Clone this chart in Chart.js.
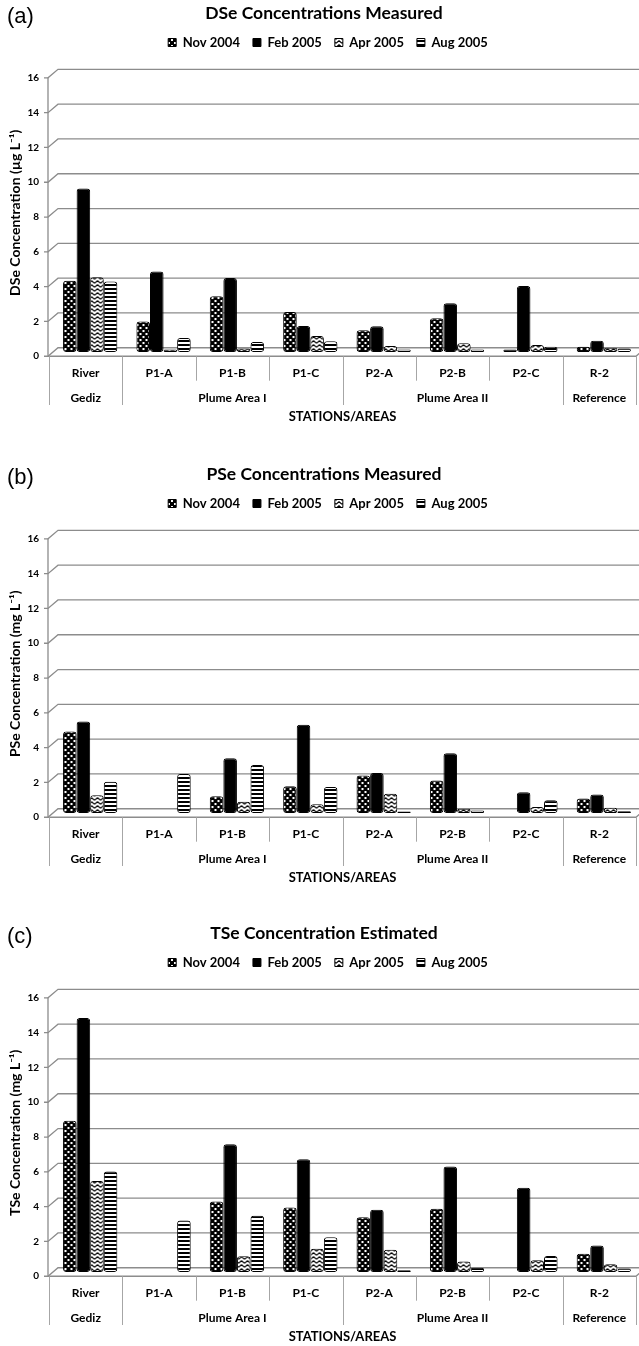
<!DOCTYPE html>
<html>
<head>
<meta charset="utf-8">
<script src="https://cdn.jsdelivr.net/npm/chart.js@4"></script>
<style>
  html, body { margin:0; padding:0; background:#fff; }
  body { width:639px; height:1346px; overflow:hidden; position:relative; }
  .panel { position:absolute; left:0; width:639px; height:427px; }
  .panel canvas { position:absolute; left:0; top:0; }
  .tag { position:absolute; left:7px; top:5px; font:22px/22px 'Liberation Sans', Arial, sans-serif; color:#000; z-index:2; }
</style>
</head>
<body>
<div class="panel" style="top:0px"><div class="tag">(a)</div><canvas id="chartA" width="639" height="427"></canvas></div>
<div class="panel" style="top:461px"><div class="tag">(b)</div><canvas id="chartB" width="639" height="427"></canvas></div>
<div class="panel" style="top:920px"><div class="tag">(c)</div><canvas id="chartC" width="639" height="427"></canvas></div>
<script>
// ---------- data ----------
const categories = ['River', 'P1-A', 'P1-B', 'P1-C', 'P2-A', 'P2-B', 'P2-C', 'R-2'];
const areas = ['Gediz', 'Plume Area I', 'Plume Area II', 'Reference'];
const areaSizes = [1, 3, 3, 1];
const seriesNames = ['Nov 2004', 'Feb 2005', 'Apr 2005', 'Aug 2005'];
const yTickValues = [0, 2, 4, 6, 8, 10, 12, 14, 16];

// (a) DSe
const dseNov = [4.1, 1.75, 3.2, 2.3, 1.25, 1.94, 0.15, 0.3];
const dseFeb = [9.4, 4.63, 4.25, 1.5, 1.48, 2.8, 3.8, 0.65];
const dseApr = [4.3, 0.15, 0.2, 0.92, 0.35, 0.5, 0.4, 0.25];
const dseAug = [4.05, 0.8, 0.58, 0.62, 0.15, 0.15, 0.3, 0.2];

// (b) PSe
const pseNov = [4.68, null, 0.96, 1.54, 2.16, 1.87, null, 0.83];
const pseFeb = [5.26, null, 3.14, 5.07, 2.3, 3.43, 1.19, 1.06];
const pseApr = [1.02, null, 0.64, 0.5, 1.1, 0.25, 0.35, 0.3];
const pseAug = [1.79, 2.24, 2.76, 1.5, 0.08, 0.15, 0.73, 0.1];

// (c) TSe
const tseNov = [8.69, null, 4.05, 3.7, 3.15, 3.63, null, 1.05];
const tseFeb = [14.6, null, 7.34, 6.48, 3.58, 6.06, 4.84, 1.53];
const tseApr = [5.23, null, 0.9, 1.34, 1.28, 0.61, 0.67, 0.44];
const tseAug = [5.77, 2.96, 3.23, 2.0, 0.1, 0.25, 0.92, 0.2];

// ---------- styles ----------
function makePattern(kind) {
  const c = document.createElement('canvas');
  const g = c.getContext('2d');
  if (kind === 'dots') {
    c.width = 6; c.height = 6;
    g.fillStyle = '#000'; g.fillRect(0, 0, 6, 6);
    g.fillStyle = '#fff'; g.fillRect(0, 0, 2, 2); g.fillRect(3, 3, 2, 2);
  } else if (kind === 'solid') {
    c.width = 2; c.height = 2;
    g.fillStyle = '#000'; g.fillRect(0, 0, 2, 2);
  } else if (kind === 'zigzag') {
    c.width = 6; c.height = 4;
    g.fillStyle = '#fff'; g.fillRect(0, 0, 6, 4);
    g.strokeStyle = '#000'; g.lineWidth = 1.1;
    g.beginPath(); g.moveTo(0, 3.2); g.lineTo(3, 0.8); g.lineTo(6, 3.2); g.stroke();
  } else {
    c.width = 2; c.height = 4;
    g.fillStyle = '#fff'; g.fillRect(0, 0, 2, 4);
    g.fillStyle = '#000'; g.fillRect(0, 0, 2, 2);
  }
  return g.createPattern(c, 'repeat');
}
const fills = [makePattern('dots'), makePattern('solid'), makePattern('zigzag'), makePattern('stripes')];

function buildLabels() {
  const out = categories.map(c => [c, '']);
  let i = 0;
  areas.forEach((a, k) => { out[i + Math.floor(areaSizes[k] / 2)][1] = a; i += areaSizes[k]; });
  return out;
}

const DEPTH_X = 10, DEPTH_Y = 8.5;
const TITLE_SHIFT = 6, LEGEND_SHIFT = 10;
const frame3d = {
  id: 'frame3d',
  beforeDraw(chart) {
    // the original figure was cropped on the right: header sits slightly right of canvas centre
    if (chart.titleBlock) { chart.titleBlock.left += TITLE_SHIFT; chart.titleBlock.right += TITLE_SHIFT; }
    if (chart.legend) { chart.legend.left += LEGEND_SHIFT; chart.legend.right += LEGEND_SHIFT; }
  },
  beforeDatasetsDraw(chart) {
    const { ctx, chartArea: ca, scales } = chart;
    const x = scales.x, y = scales.y;
    const hx = DEPTH_X / 2, hy = DEPTH_Y / 2;
    const fx = ca.left - 1, bx = fx + DEPTH_X;
    ctx.save();
    ctx.strokeStyle = '#8c8c8c';
    ctx.lineWidth = 1.3;
    y.ticks.forEach(t => {
      const ym = y.getPixelForValue(t.value);
      const yf = ym + hy, yb = ym - hy;
      ctx.beginPath();
      ctx.moveTo(fx - 4, yf); ctx.lineTo(fx, yf); ctx.lineTo(bx, yb); ctx.lineTo(chart.width, yb);
      ctx.stroke();
    });
    const yf0 = y.getPixelForValue(y.min) + hy;
    const yfTop = y.getPixelForValue(y.max) + hy;
    ctx.beginPath();
    ctx.moveTo(fx, yfTop); ctx.lineTo(fx, yf0); ctx.lineTo(ca.right, yf0); ctx.lineTo(ca.right + DEPTH_X, yf0 - DEPTH_Y);
    ctx.stroke();
    // category / area dividers
    ctx.strokeStyle = '#a6a6a6';
    ctx.lineWidth = 1;
    const starts = new Set();
    let acc = 0;
    areaSizes.forEach(n => { starts.add(acc); acc += n; });
    starts.add(acc);
    for (let i = 0; i <= categories.length; i++) {
      let px;
      if (i === 0) px = ca.left;
      else if (i === categories.length) px = ca.right;
      else px = (x.getPixelForValue(i - 1) + x.getPixelForValue(i)) / 2;
      const yEnd = starts.has(i) ? ca.bottom + 53 : ca.bottom + 28.7;
      ctx.beginPath(); ctx.moveTo(Math.round(px) + 0.5, yf0); ctx.lineTo(Math.round(px) + 0.5, yEnd); ctx.stroke();
    }
    ctx.restore();
    ctx.save();
    ctx.translate(hx - 0.5, 0);
  },
  afterDatasetsDraw(chart) {
    chart.ctx.restore();
  }
};

function makeChart(id, title, yTitle, values) {
  return new Chart(document.getElementById(id), {
    type: 'bar',
    data: {
      labels: buildLabels(),
      datasets: seriesNames.map((n, k) => ({
        label: n, data: values[k], xAxisID: 'x', yAxisID: 'y',
        backgroundColor: fills[k], borderColor: '#000', borderWidth: 1, borderRadius: 3,
        borderSkipped: false, barPercentage: 1, categoryPercentage: 0.74, clip: false
      }))
    },
    options: {
      responsive: false, animation: false, devicePixelRatio: 1,
      layout: { padding: { left: 0, right: 3, top: 0, bottom: 0 } },
      plugins: {
        title: { display: true, text: title, color: '#000', font: { family: 'Lato', size: 17.5, weight: 'bold' }, padding: { top: 3, bottom: -1 } },
        legend: { display: true, labels: { boxWidth: 8, boxHeight: 8, padding: 13, color: '#000', font: { family: 'Lato', size: 13, weight: 'bold' } } },
        tooltip: { enabled: false }
      },
      scales: {
        x: {
          afterFit(s) { s.height = 75; },
          grid: { display: false, drawTicks: false }, border: { display: false },
          ticks: { padding: 8, color: '#000', maxRotation: 0, autoSkip: false, font: { family: 'Lato', size: 12, weight: 'bold', lineHeight: 2.1333 } },
          title: { display: true, text: 'STATIONS/AREAS', color: '#000', font: { family: 'Lato', size: 13, weight: 'bold' }, padding: { top: 0, bottom: 2.5 } }
        },
        y: {
          min: 0, max: 16,
          afterBuildTicks(s) { s.ticks = yTickValues.map(v => ({ value: v })); },
          afterFit(s) { s.width = 49; },
          grid: { display: false, drawTicks: false }, border: { display: false },
          ticks: { padding: 10, labelOffset: 4.25, color: '#000', font: { family: 'Lato', size: 10, weight: 'bold' } },
          title: { display: true, text: yTitle, color: '#000', font: { family: 'Lato', size: 14, weight: 'bold' }, padding: { top: 6.6, bottom: 0 } }
        },
        spacer: {
          axis: 'x', type: 'linear', position: 'top', display: true, min: 0, max: 1,
          grid: { display: false, drawTicks: false }, border: { display: false }, ticks: { display: false },
          afterFit(s) { s.height = 14.6; }
        }
      }
    },
    plugins: [frame3d]
  });
}

makeChart('chartA', 'DSe Concentrations Measured', 'DSe Concentration (µg L⁻¹)', [dseNov, dseFeb, dseApr, dseAug]);
makeChart('chartB', 'PSe Concentrations Measured', 'PSe Concentration (mg L⁻¹)', [pseNov, pseFeb, pseApr, pseAug]);
makeChart('chartC', 'TSe Concentration Estimated', 'TSe Concentration (mg L⁻¹)', [tseNov, tseFeb, tseApr, tseAug]);
</script>
</body>
</html>
